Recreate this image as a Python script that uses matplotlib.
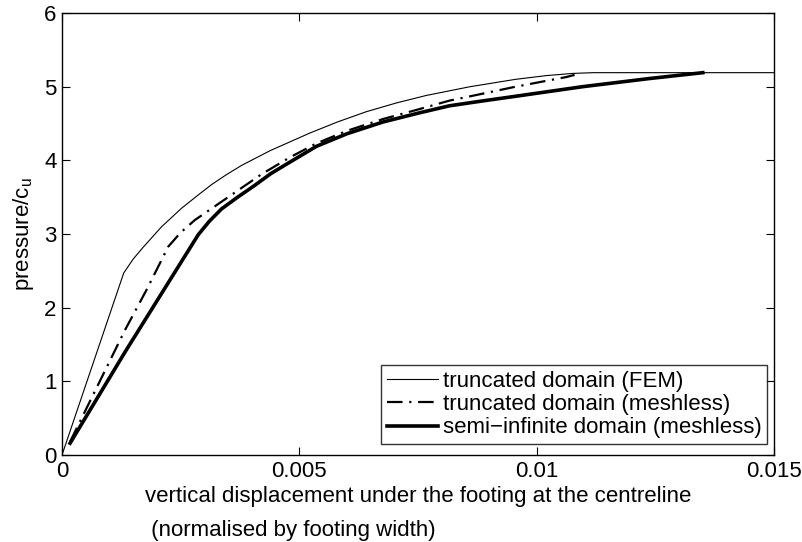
import matplotlib
matplotlib.use("Agg")
import matplotlib.pyplot as plt

plt.rcParams['font.family'] = ['Liberation Sans', 'DejaVu Sans']
plt.rcParams['mathtext.fontset'] = 'custom'
plt.rcParams['mathtext.rm'] = 'Liberation Sans'

# load-displacement curves (displacement / footing width, pressure / c_u)
fem_x = [0.0, 0.0013, 0.0015, 0.00171, 0.0021, 0.00252, 0.00285, 0.00315,
         0.00345, 0.00378, 0.00438, 0.00522, 0.0058, 0.00641, 0.00705,
         0.00767, 0.0086, 0.00956, 0.0102, 0.01076, 0.0112, 0.0155]
fem_y = [0.0, 2.47, 2.66, 2.82, 3.10, 3.35, 3.52, 3.67,
         3.80, 3.93, 4.13, 4.37, 4.52, 4.66, 4.78,
         4.88, 5.00, 5.10, 5.15, 5.18, 5.19, 5.19]

trunc_x = [0.00017, 0.00062, 0.00133, 0.00178, 0.00224, 0.0025, 0.0028,
           0.0035, 0.0042, 0.0048, 0.00536, 0.006, 0.00676, 0.0075,
           0.00816, 0.0089, 0.00956, 0.01062, 0.0108]
trunc_y = [0.18, 0.77, 1.70, 2.24, 2.83, 3.02, 3.19,
           3.50, 3.81, 4.04, 4.23, 4.40, 4.56, 4.69,
           4.81, 4.91, 5.00, 5.13, 5.16]

semi_x = [0.00017, 0.00133, 0.00287, 0.0031, 0.00336, 0.0037, 0.00406,
          0.0044, 0.00476, 0.00536, 0.006, 0.00676, 0.0075, 0.00816,
          0.0089, 0.00956, 0.01097, 0.01237, 0.0135]
semi_y = [0.16, 1.40, 2.99, 3.17, 3.34, 3.50, 3.66,
          3.82, 3.96, 4.19, 4.36, 4.52, 4.64, 4.74,
          4.81, 4.87, 5.00, 5.11, 5.19]

fig = plt.figure(figsize=(8.03, 5.42), dpi=100)
ax = fig.add_axes([62 / 803, (542 - 455) / 542, 712 / 803, 442 / 542])

ax.plot(fem_x, fem_y, color='black', lw=0.8, label='truncated domain (FEM)')
ax.plot(trunc_x, trunc_y, color='black', lw=1.6, dashes=[7, 3, 1, 3],
        label='truncated domain (meshless)')
ax.plot(semi_x, semi_y, color='black', lw=2.6,
        label='semi\u2212infinite domain (meshless)')

ax.set_xlim(0, 0.015)
ax.set_ylim(0, 6)
ax.set_xticks([0, 0.005, 0.01, 0.015])
ax.set_xticklabels(['0', '0.005', '0.01', '0.015'])
ax.set_yticks(range(7))
ax.tick_params(direction='in', top=True, right=True, length=6, width=0.8,
               labelsize=16, pad=4)
for s in ax.spines.values():
    s.set_linewidth(1.0)

ax.set_ylabel('pressure/c$_\\mathregular{u}$', fontsize=16, labelpad=6)
ax.set_xlabel('vertical displacement under the footing at the centreline\n'
              ' (normalised by footing width)',
              fontsize=16, multialignment='left', linespacing=1.8, labelpad=3)

leg = ax.legend(loc='lower right', bbox_to_anchor=(0.99, 0.025), fontsize=16,
                frameon=True, fancybox=False, edgecolor='black',
                handlelength=2.3, handletextpad=0.2, borderpad=0.25,
                labelspacing=0.1, borderaxespad=0)
leg.get_frame().set_linewidth(1.0)

fig.savefig('out.png', dpi=100)
